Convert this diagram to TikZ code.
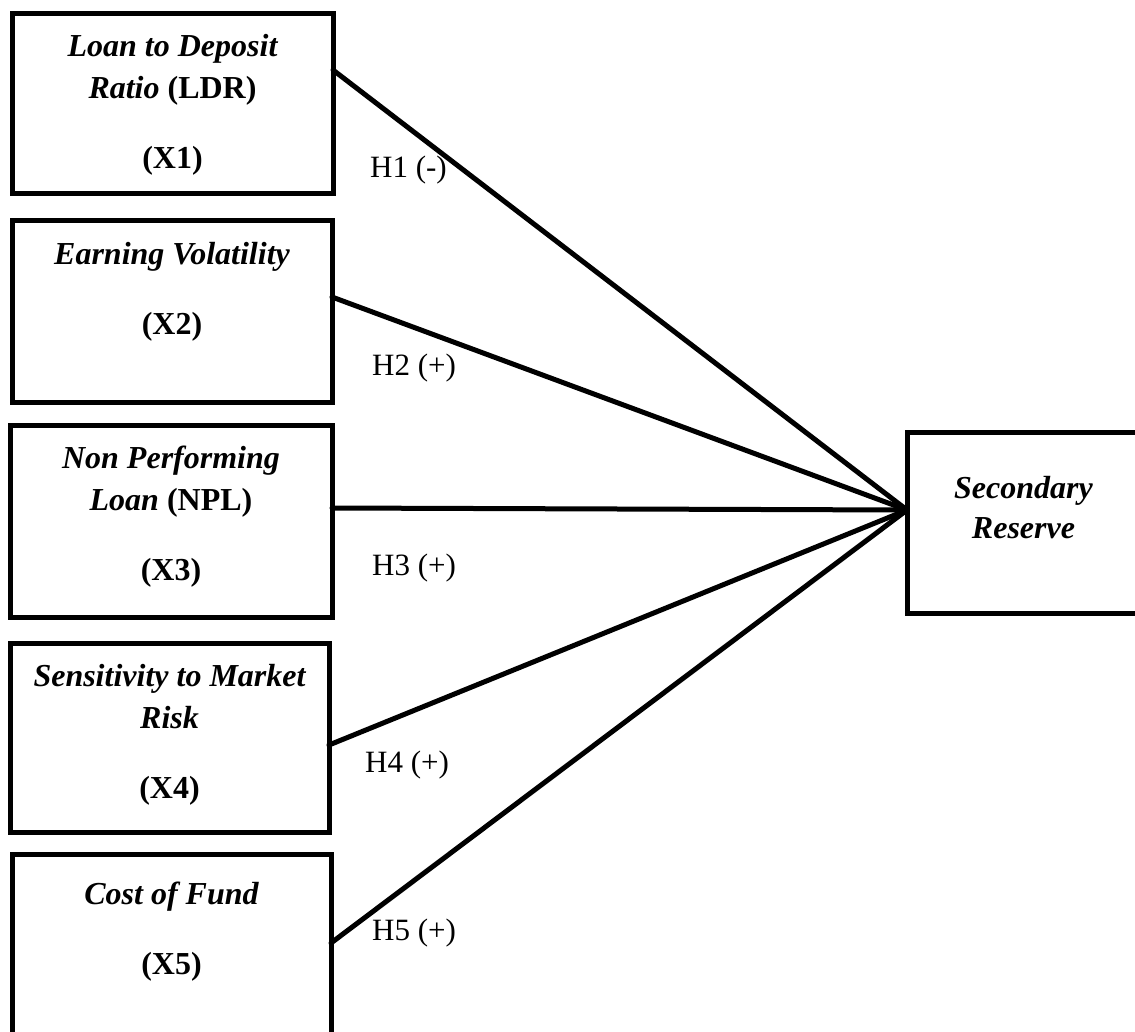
\documentclass[tikz,border=0pt]{standalone}
\usepackage{fontspec}
\setmainfont{Liberation Serif}

\begin{document}
\begin{tikzpicture}[x=1pt,y=-1pt,
  varbox/.style={draw, line width=5pt, rectangle, anchor=north west, inner sep=0pt, outer sep=0pt},
  boxtext/.style={anchor=north, align=center, inner sep=0pt, font=\fontsize{32}{42}\selectfont\bfseries\itshape},
  hyp/.style={anchor=base west, inner sep=0pt, font=\fontsize{31}{36}\selectfont},
  link/.style={line width=5pt, line cap=round}]
  \useasboundingbox (0,0) rectangle (1135,1031);
  \clip (0,0) rectangle (1135,1031);

  % Draw the five independent variable boxes on the left
  \node[varbox, minimum width=321pt, minimum height=180pt] (ldr) at (12,13) {};
  \node[varbox, minimum width=320pt, minimum height=182pt] (ev) at (12,220) {};
  \node[varbox, minimum width=322pt, minimum height=192pt] (npl) at (10,425) {};
  \node[varbox, minimum width=319pt, minimum height=189pt] (smr) at (10,643) {};
  \node[varbox, minimum width=319pt, minimum height=186pt] (cof) at (12,854) {};

  % Texts inside the left boxes
  \node[boxtext] (ldrtext) at ([yshift=-21pt]ldr.north) {Loan to Deposit\\ Ratio \textup{(LDR)}\\[28pt] \textup{(X1)}};
  \node[boxtext] (evtext) at ([yshift=-22pt]ev.north) {Earning Volatility\\[28pt] \textup{(X2)}};
  \node[boxtext] (npltext) at ([yshift=-21pt]npl.north) {Non Performing\\ Loan \textup{(NPL)}\\[28pt] \textup{(X3)}};
  \node[boxtext] (smrtext) at ([yshift=-21pt]smr.north) {Sensitivity to Market\\ Risk\\[28pt] \textup{(X4)}};
  \node[boxtext] (coftext) at ([yshift=-28pt]cof.north) {Cost of Fund\\[28pt] \textup{(X5)}};

  % Draw the dependent variable box on the right
  \node[varbox, minimum width=233pt, minimum height=181pt] (res) at (907,432) {};
  \node[boxtext, font=\fontsize{32}{40}\selectfont\bfseries\itshape] (restext) at ([yshift=-44pt]res.north) {Secondary\\ Reserve};

  % Draw the hypothesis paths
  \draw[link] ([yshift=-57pt]ldr.north east) -- ([yshift=-78pt]res.north west);
  \draw[link] ([yshift=-77pt]ev.north east) -- ([yshift=-78pt]res.north west);
  \draw[link] ([yshift=-83pt]npl.north east) -- ([yshift=-78pt]res.north west);
  \draw[link] ([yshift=-102pt]smr.north east) -- ([yshift=-78pt]res.north west);
  \draw[link] ([yshift=-89pt]cof.north east) -- ([yshift=-78pt]res.north west);

  % Hypothesis labels
  \node[hyp] (h1) at (370,177) {H1 (-)};
  \node[hyp] (h2) at (372,375) {H2 (+)};
  \node[hyp] (h3) at (372,575) {H3 (+)};
  \node[hyp] (h4) at (365,772) {H4 (+)};
  \node[hyp] (h5) at (372,940) {H5 (+)};
\end{tikzpicture}
\end{document}
